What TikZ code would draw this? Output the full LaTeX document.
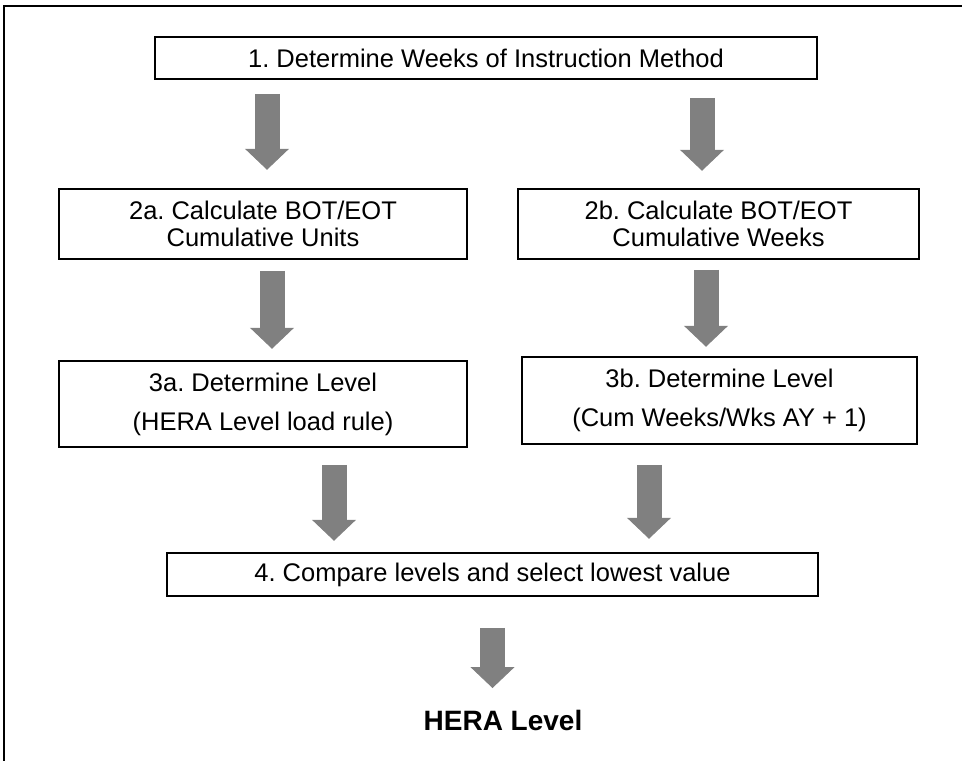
\documentclass[tikz,border=0pt]{standalone}
\usepackage{fontspec}
\setmainfont{Liberation Sans}
\usetikzlibrary{arrows.meta,calc}
\definecolor{arrowgray}{HTML}{808080}
\frenchspacing
\begin{document}
\begin{tikzpicture}[x=1pt,y=-1pt,
  box/.style={draw=black, line width=1.5pt, rectangle, inner sep=0pt, align=center,
              font=\fontsize{25.5}{27}\selectfont},
  tallbox/.style={box, font=\fontsize{25.5}{39}\selectfont},
  blockarrow/.style={draw=arrowgray, line width=25pt,
      -{Triangle[width=44pt,length=21pt,line width=1pt,fill=arrowgray]}},
]
\useasboundingbox (0,0) rectangle (962,761);
\draw[line width=2pt] (4,761) -- (4,6) -- (962,6);

\node[box, minimum width=662pt, minimum height=42pt] (b1) at (486,58)
  {1. Determine Weeks of Instruction Method};
\node[box, minimum width=408pt, minimum height=70pt] (b2a) at (263,224)
  {2a. Calculate BOT/EOT\\Cumulative Units};
\node[box, minimum width=401pt, minimum height=70pt] (b2b) at (718.5,224)
  {2b. Calculate BOT/EOT\\Cumulative Weeks};
\node[tallbox, minimum width=408pt, minimum height=86pt] (b3a) at (263,404)
  {3a. Determine Level\\(HERA Level load rule)};
\node[tallbox, minimum width=395pt, minimum height=87pt] (b3b) at (719.5,400.5)
  {3b. Determine Level\\(Cum Weeks/Wks AY + 1)};
\node[box, minimum width=651pt, minimum height=43pt] (b4) at (492.5,574.5)
  {4. Compare levels and select lowest value};
\node[anchor=base, inner sep=0pt, font=\fontsize{28}{32}\selectfont\bfseries] (hera) at (503,730)
  {HERA Level};

\draw[blockarrow, shorten <=14pt, shorten >=18.5pt]
  ([xshift=4pt]b2a.north |- b1.south) -- ([xshift=4pt]b2a.north);
\draw[blockarrow, shorten <=18pt, shorten >=17.5pt]
  ([xshift=-16.5pt]b2b.north |- b1.south) -- ([xshift=-16.5pt]b2b.north);
\draw[blockarrow, shorten <=11pt, shorten >=11.5pt]
  ([xshift=9pt]b2a.south) -- ([xshift=9pt]b2a.south |- b3a.north);
\draw[blockarrow, shorten <=10pt, shorten >=9.5pt]
  ([xshift=-12.5pt]b2b.south) -- ([xshift=-12.5pt]b2b.south |- b3b.north);
\draw[blockarrow, shorten <=17pt, shorten >=11.5pt]
  ([xshift=71pt]b3a.south) -- ([xshift=71pt]b3a.south |- b4.north);
\draw[blockarrow, shorten <=20pt, shorten >=13.5pt]
  ([xshift=-70.5pt]b3b.south) -- ([xshift=-70.5pt]b3b.south |- b4.north);
\draw[blockarrow, shorten <=31pt, shorten >=21.5pt]
  (b4.south) -- (b4.south |- hera.north);
\end{tikzpicture}
\end{document}
